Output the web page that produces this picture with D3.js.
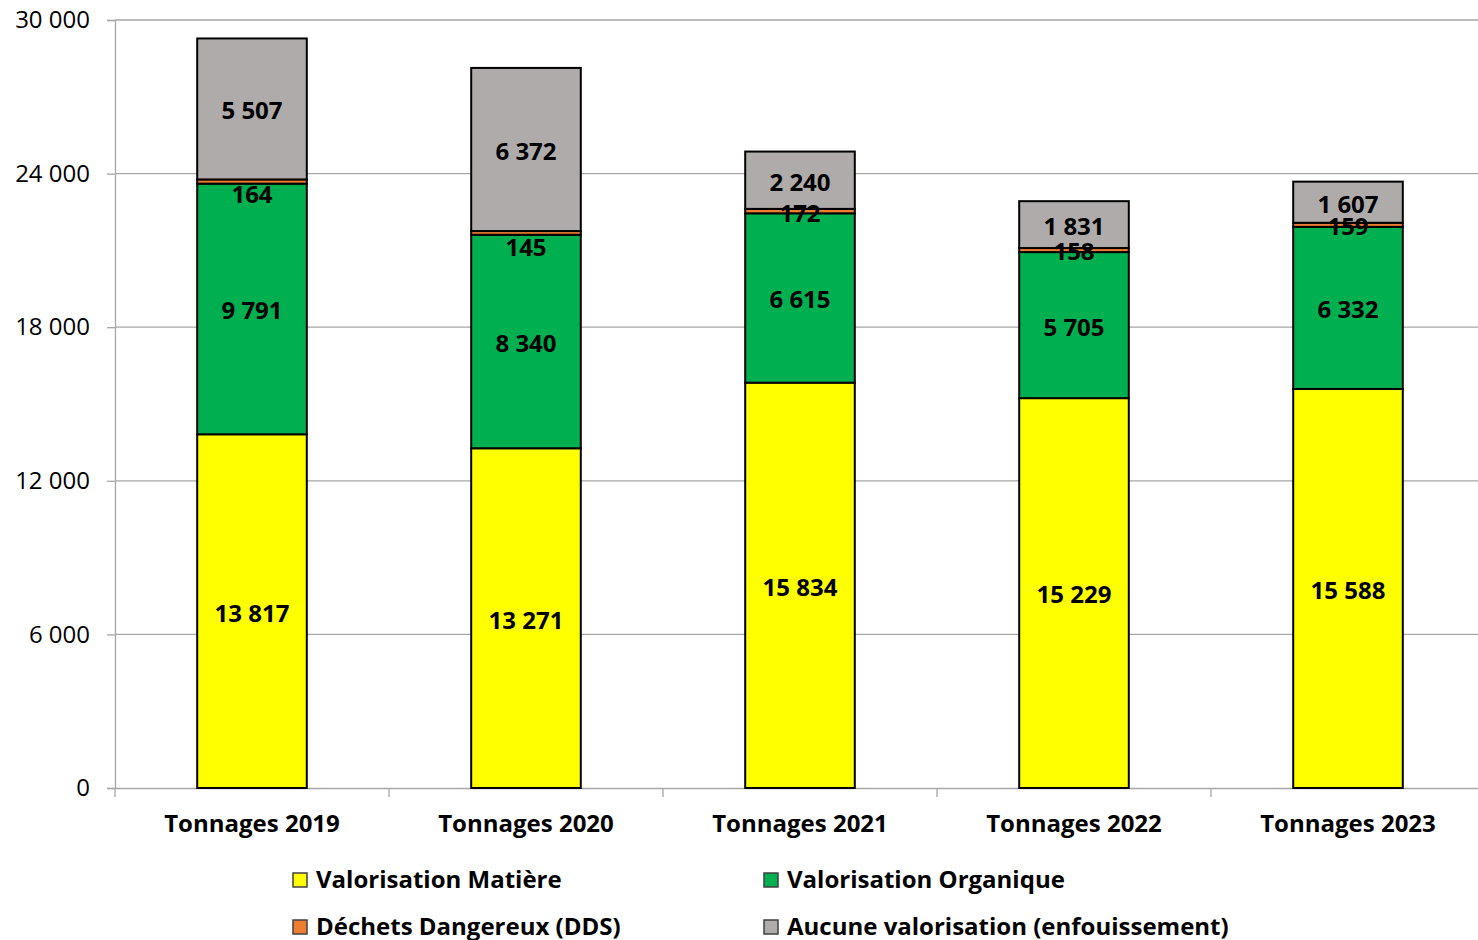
<!DOCTYPE html>
<html>
<head>
<meta charset="utf-8">
<script src="https://cdn.jsdelivr.net/npm/d3@7"></script>
<style>
  html, body { margin: 0; padding: 0; background: #fff; }
  svg { display: block; font-family: "Open Sans", sans-serif; }
</style>
</head>
<body>
<svg id="chart" width="1478" height="940"></svg>
<script>
// Tonnages par année et par filière de traitement
const categories = ["Tonnages 2019", "Tonnages 2020", "Tonnages 2021", "Tonnages 2022", "Tonnages 2023"];
const seriesNames = ["Valorisation Matière", "Valorisation Organique", "Déchets Dangereux (DDS)", "Aucune valorisation (enfouissement)"];
const valorisationMatiere = [13817, 13271, 15834, 15229, 15588];
const valorisationOrganique = [9791, 8340, 6615, 5705, 6332];
const dechetsDangereux = [164, 145, 172, 158, 159];
const aucuneValorisation = [5507, 6372, 2240, 1831, 1607];
const yTicks = [0, 6000, 12000, 18000, 24000, 30000];

const colors = ["#FFFF00", "#00B050", "#ED7D31", "#AFABAB"];
// the small DDS labels are pushed down a little when the segment is crowded
const ddsLabelShift = [11, 13, 0, 0, 0];

const fr = d3.formatLocale({ decimal: ",", thousands: " ", grouping: [3], currency: ["", " €"] });
const fmt = fr.format(",d");

const svg = d3.select("#chart");
const margin = { left: 115, right: 1485, top: 20, bottom: 788 };
const fontSize = 24;

const x = d3.scaleBand().domain(categories).range([margin.left, margin.right]).padding(0);
const y = d3.scaleLinear().domain([0, 30000]).range([margin.bottom, margin.top]);
const barW = x.bandwidth() * 0.4;

const rows = categories.map((c, i) => ({
  cat: c,
  v0: valorisationMatiere[i],
  v1: valorisationOrganique[i],
  v2: dechetsDangereux[i],
  v3: aucuneValorisation[i]
}));
const stack = d3.stack().keys(["v0", "v1", "v2", "v3"]);
const layers = stack(rows);

// gridlines
svg.append("g")
  .selectAll("line")
  .data(yTicks.filter(t => t > 0))
  .join("line")
  .attr("x1", margin.left).attr("x2", 1478)
  .attr("y1", d => y(d)).attr("y2", d => y(d))
  .attr("stroke", "#A6A6A6").attr("stroke-width", 1.3);

// y axis
const yAxis = svg.append("g")
  .attr("transform", `translate(${margin.left},0)`)
  .call(d3.axisLeft(y).tickValues(yTicks).tickFormat(fmt).tickSize(8).tickPadding(17));
yAxis.select(".domain").attr("stroke", "#A6A6A6").attr("stroke-width", 1.3);
yAxis.selectAll(".tick line").attr("stroke", "#A6A6A6").attr("stroke-width", 1.3);
yAxis.selectAll("text").attr("font-size", fontSize).attr("fill", "#000")
  .attr("font-family", "Open Sans, sans-serif");

// x axis
const xAxis = svg.append("g")
  .attr("transform", `translate(0,${margin.bottom})`)
  .call(d3.axisBottom(x).tickSize(0).tickPadding(27));
xAxis.select(".domain").attr("stroke", "#A6A6A6").attr("stroke-width", 1.3);
xAxis.selectAll("text").attr("font-size", fontSize).attr("font-weight", "bold").attr("fill", "#000")
  .attr("font-family", "Open Sans, sans-serif");
// category separators
svg.append("g")
  .selectAll("line")
  .data(categories)
  .join("line")
  .attr("x1", d => x(d)).attr("x2", d => x(d))
  .attr("y1", margin.bottom).attr("y2", margin.bottom + 9)
  .attr("stroke", "#A6A6A6").attr("stroke-width", 1.3);

// bars
const layerG = svg.append("g")
  .selectAll("g")
  .data(layers)
  .join("g")
  .attr("fill", (d, i) => colors[i]);

layerG.selectAll("rect")
  .data(d => d)
  .join("rect")
  .attr("x", d => x(d.data.cat) + (x.bandwidth() - barW) / 2)
  .attr("width", barW)
  .attr("y", d => y(d[1]))
  .attr("height", d => y(d[0]) - y(d[1]))
  .attr("stroke", "#000")
  .attr("stroke-width", 2);

// value labels
const labelG = svg.append("g");
layers.forEach((layer, li) => {
  layer.forEach((d, i) => {
    const shift = li === 2 ? ddsLabelShift[i] : 0;
    labelG.append("text")
      .attr("x", x(d.data.cat) + x.bandwidth() / 2)
      .attr("y", (y(d[0]) + y(d[1])) / 2 + shift + 2)
      .attr("dy", "0.35em")
      .attr("text-anchor", "middle")
      .attr("font-size", fontSize)
      .attr("font-weight", "bold")
      .attr("fill", "#000")
      .text(fmt(d[1] - d[0]));
  });
});

// legend
const legendPos = [[293, 880], [764, 880], [293, 927], [764, 927]];
const legend = svg.append("g");
seriesNames.forEach((name, i) => {
  const [lx, ly] = legendPos[i];
  legend.append("rect")
    .attr("x", lx).attr("y", ly - 7)
    .attr("width", 14).attr("height", 14)
    .attr("fill", colors[i])
    .attr("stroke", "#404040").attr("stroke-width", 1.5);
  legend.append("text")
    .attr("x", lx + 23).attr("y", ly)
    .attr("dy", "0.35em")
    .attr("font-size", fontSize)
    .attr("font-weight", "bold")
    .attr("fill", "#000")
    .text(name);
});
</script>
</body>
</html>
